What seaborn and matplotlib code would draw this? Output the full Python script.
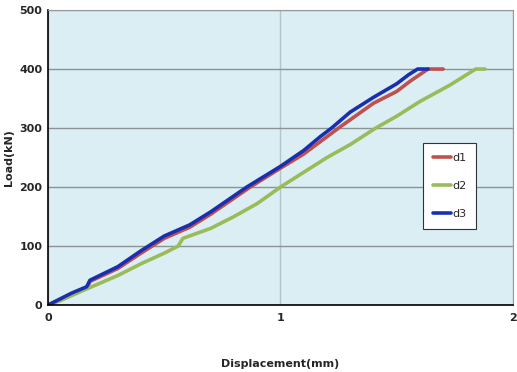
import pandas as pd
import matplotlib.pyplot as plt
import seaborn as sns
from matplotlib.ticker import MultipleLocator

# load-displacement readings (mm, kN)
d1_x = [0, 0.05, 0.10, 0.17, 0.18, 0.30, 0.40, 0.50, 0.61, 0.70, 0.87, 1.00, 1.10, 1.25, 1.40, 1.50, 1.56, 1.635, 1.70]
d1_y = [0, 9, 18, 30, 40, 62, 88, 113, 132, 154, 200, 232, 256, 300, 342, 362, 380, 400, 400]

d2_x = [0, 0.05, 0.17, 0.30, 0.40, 0.50, 0.56, 0.58, 0.70, 0.80, 0.90, 1.00, 1.10, 1.20, 1.30, 1.41, 1.50, 1.60, 1.73, 1.84, 1.88]
d2_y = [0, 7, 28, 50, 70, 88, 100, 113, 130, 150, 172, 200, 225, 250, 272, 300, 320, 345, 373, 400, 400]

d3_x = [0, 0.05, 0.10, 0.166, 0.18, 0.30, 0.40, 0.50, 0.61, 0.70, 0.855, 1.00, 1.10, 1.17, 1.22, 1.30, 1.40, 1.50, 1.55, 1.59, 1.635]
d3_y = [0, 10, 20, 31, 42, 65, 92, 117, 136, 158, 200, 235, 262, 285, 300, 327, 352, 375, 390, 400, 400]

series = ["d1", "d2", "d3"]
colors = ["#c0504d", "#9bbb59", "#1a2fb0"]

df = pd.concat([
    pd.DataFrame({"Displacement": d1_x, "Load": d1_y, "name": "d1"}),
    pd.DataFrame({"Displacement": d2_x, "Load": d2_y, "name": "d2"}),
    pd.DataFrame({"Displacement": d3_x, "Load": d3_y, "name": "d3"}),
])

sns.set_style("white")
plt.rcParams["font.family"] = ["DejaVu Sans"]

fig = plt.figure(figsize=(5.17, 3.72), dpi=100)
ax = fig.add_axes([0.093, 0.180, 0.899, 0.793])
ax.set_facecolor("#dbeef4")

sns.lineplot(data=df, x="Displacement", y="Load", hue="name", hue_order=series,
             palette=colors, linewidth=2.6, sort=False, estimator=None, ax=ax)

ax.set_xlim(0, 2)
ax.set_ylim(0, 500)
ax.xaxis.set_major_locator(MultipleLocator(1))
ax.xaxis.set_minor_locator(MultipleLocator(0.5))
ax.yaxis.set_major_locator(MultipleLocator(100))
ax.yaxis.set_minor_locator(MultipleLocator(50))
ax.grid(axis="y", which="major", color="#8a9497", linewidth=1.0)
ax.grid(axis="x", which="major", color="#b5c4c8", linewidth=1.0)
ax.set_axisbelow(True)

ax.tick_params(axis="x", which="major", direction="in", length=0, labelsize=8, pad=6)
ax.tick_params(axis="y", which="major", direction="in", length=0, labelsize=8, pad=4)
ax.tick_params(axis="both", which="minor", direction="in", length=3, color="#555555")
for lab in ax.get_xticklabels() + ax.get_yticklabels():
    lab.set_fontweight("bold")

for side in ["left", "bottom"]:
    ax.spines[side].set_color("black")
    ax.spines[side].set_linewidth(1.2)
for side in ["top", "right"]:
    ax.spines[side].set_color("#999999")
    ax.spines[side].set_linewidth(0.8)

ax.set_xlabel("Displacement(mm)", fontsize=8, fontweight="bold", labelpad=26)
ax.set_ylabel("Load(kN)", fontsize=8, fontweight="bold", labelpad=4)

leg = ax.legend(title=None, loc="upper left", bbox_to_anchor=(0.795, 0.568),
                frameon=True, fancybox=False, fontsize=8, labelspacing=1.6,
                handlelength=1.6, handletextpad=0.1, borderpad=0.9)
leg.get_frame().set_edgecolor("#333333")
leg.get_frame().set_linewidth(0.8)
leg.get_frame().set_facecolor("white")
leg.get_frame().set_alpha(1)

fig.savefig("out.png", dpi=100)
